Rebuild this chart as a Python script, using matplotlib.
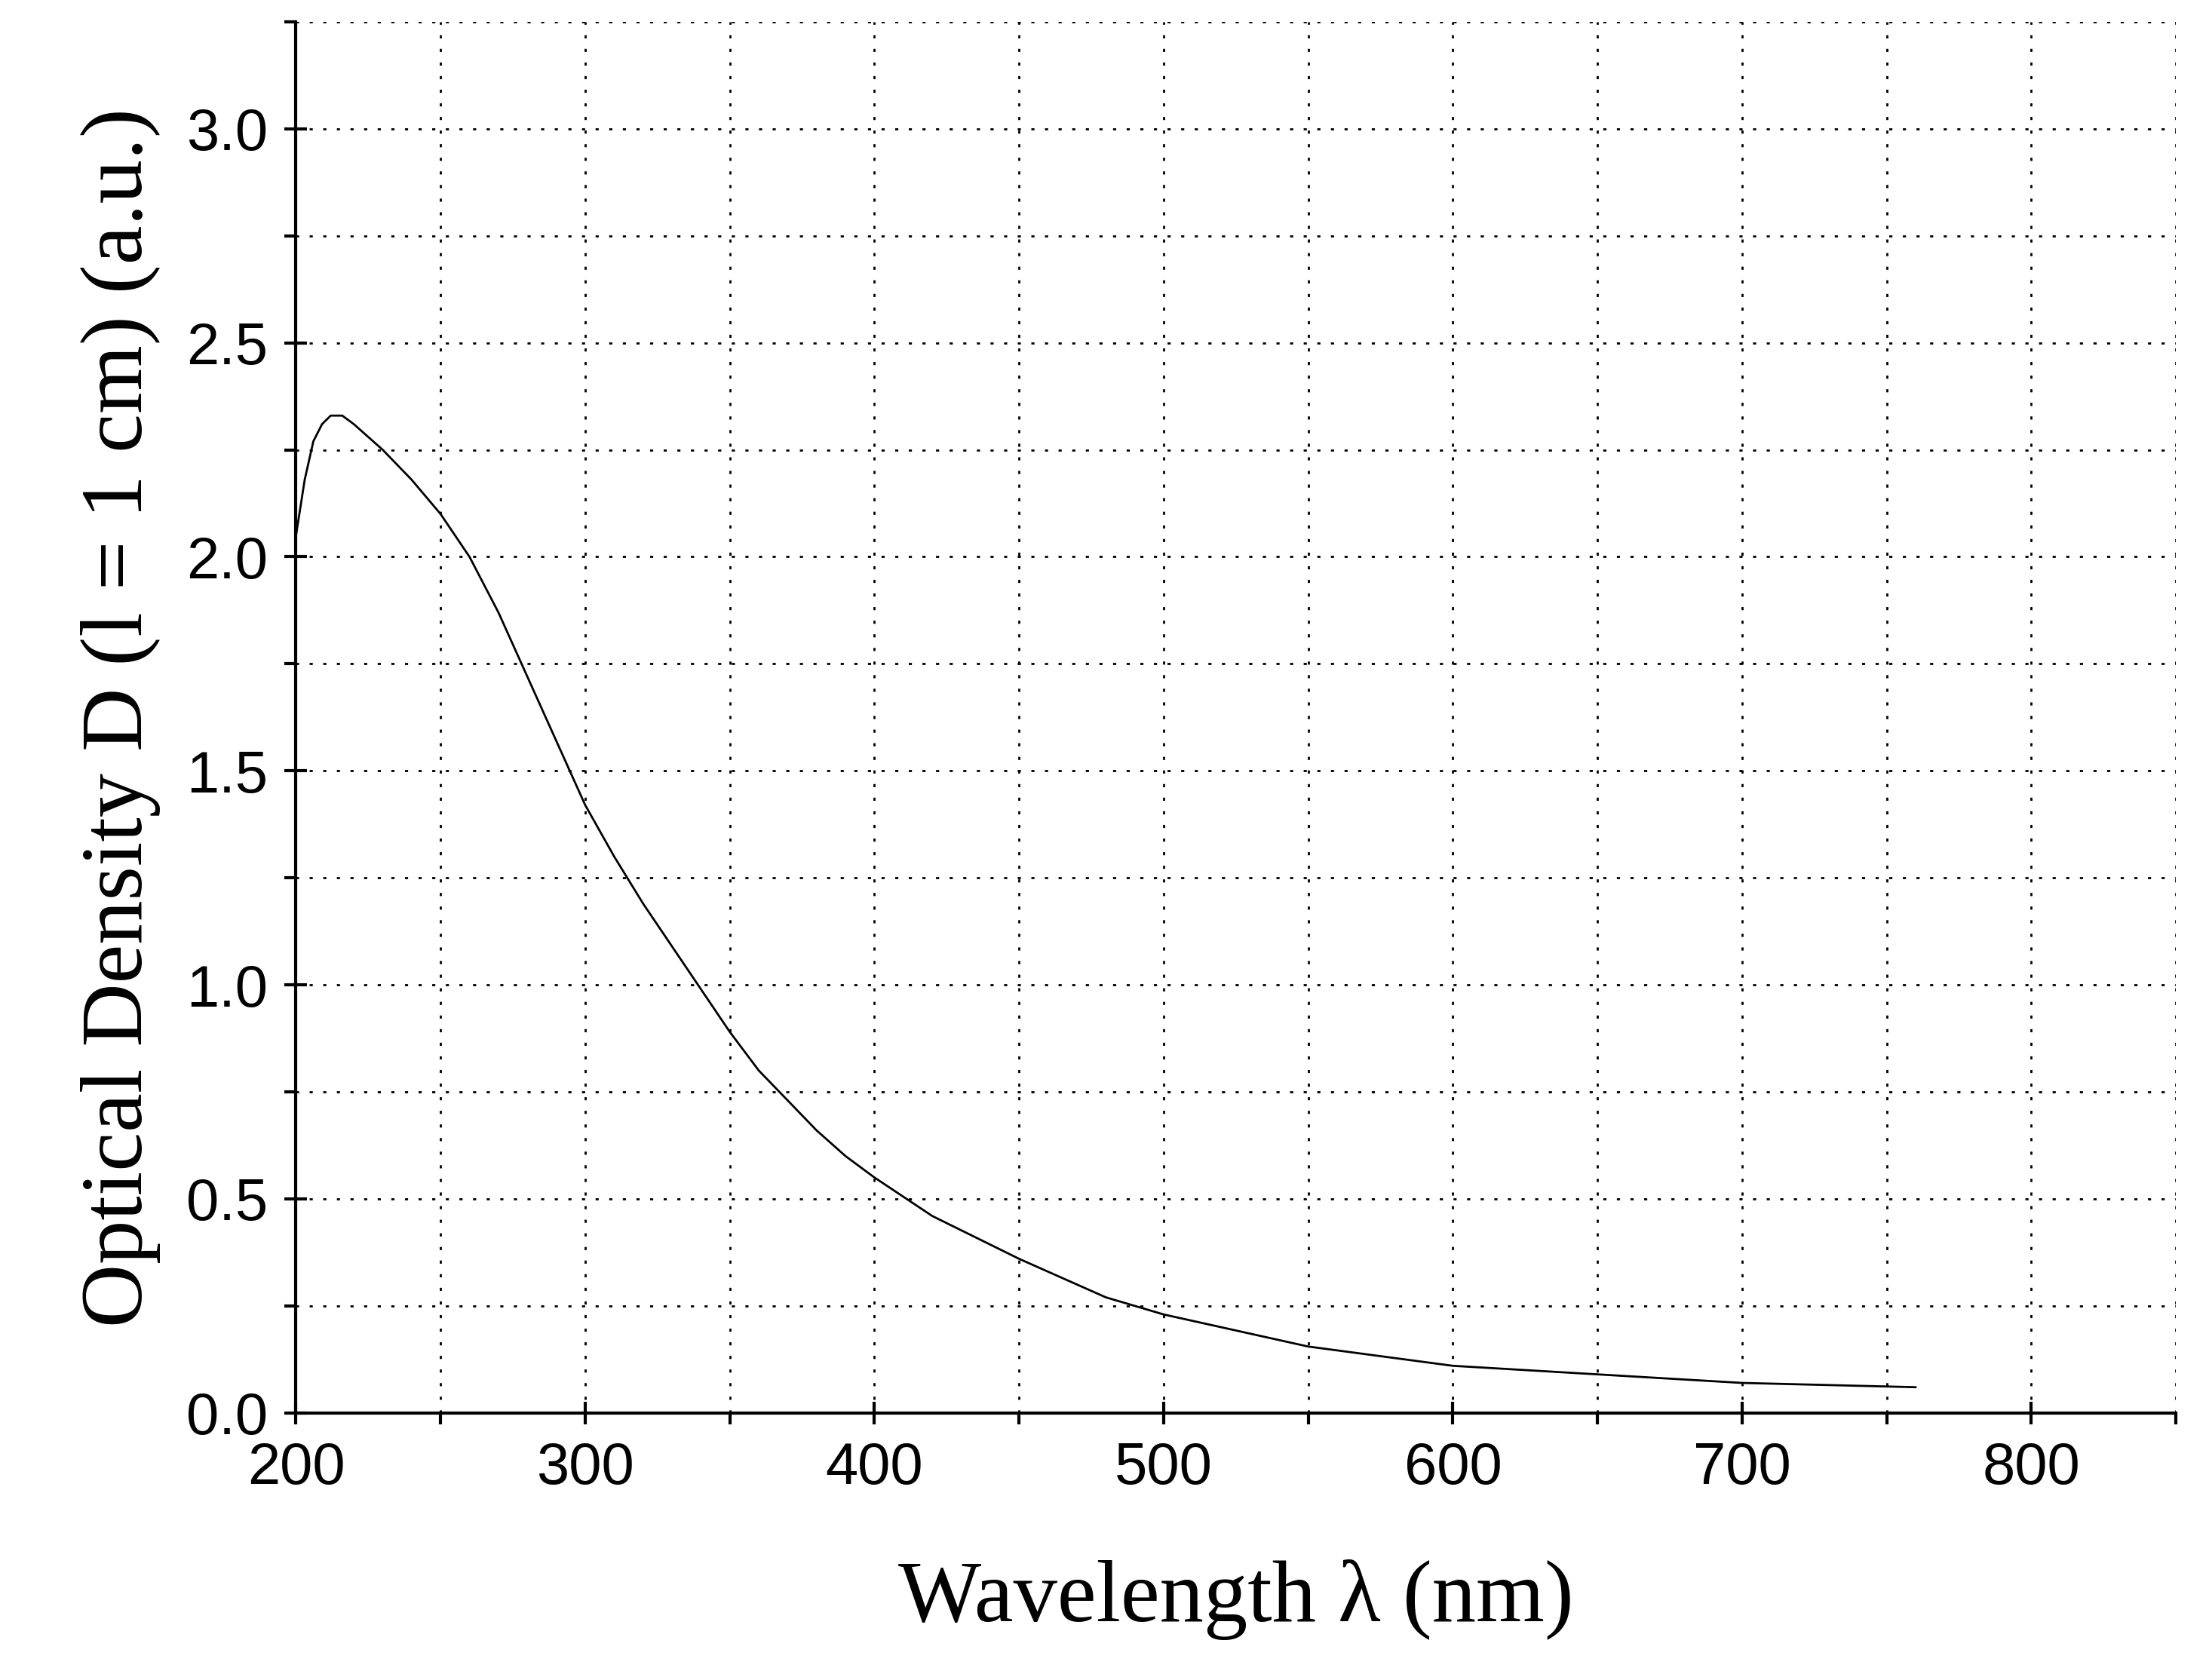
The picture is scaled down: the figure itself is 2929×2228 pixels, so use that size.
import matplotlib
matplotlib.use("Agg")
import matplotlib.pyplot as plt
from matplotlib.ticker import MultipleLocator

wl = [200, 203, 206, 209, 212, 216, 220, 230, 240, 250, 260, 270, 280, 290, 300, 310, 320, 330, 340, 350,
      360, 370, 380, 390, 400, 420, 450, 480, 500, 550, 600, 650, 700, 760]
od = [2.05, 2.18, 2.27, 2.31, 2.33, 2.33, 2.31, 2.25, 2.18, 2.10, 2.00, 1.87, 1.72, 1.57, 1.42, 1.30, 1.19,
      1.09, 0.99, 0.89, 0.80, 0.73, 0.66, 0.60, 0.55, 0.46, 0.36, 0.27, 0.23, 0.155, 0.11, 0.09, 0.07, 0.06]

fig = plt.figure(figsize=(29.29, 22.28), dpi=100)
ax = fig.add_axes([0.134, 0.159, 0.851, 0.828])
ax.plot(wl, od, color="black", lw=2)
ax.set_xlim(200, 850)
ax.set_ylim(0, 3.25)
ax.xaxis.set_major_locator(MultipleLocator(100))
ax.xaxis.set_minor_locator(MultipleLocator(50))
ax.yaxis.set_minor_locator(MultipleLocator(0.25))
ax.set_yticks([0, 0.5, 1.0, 1.5, 2.0, 2.5, 3.0])
ax.set_yticklabels(["0.0", "0.5", "1.0", "1.5", "2.0", "2.5", "3.0"])
ax.grid(which="both", color="black", linestyle=(0, (1.5, 5)), lw=2)
for s in ["top", "right"]:
    ax.spines[s].set_visible(False)
for s in ["left", "bottom"]:
    ax.spines[s].set_linewidth(3)
ax.tick_params(which="major", direction="inout", length=22, width=3, labelsize=56, pad=16)
ax.tick_params(which="minor", direction="out", length=11, width=3)
for t in ax.get_xticklabels() + ax.get_yticklabels():
    t.set_family("Liberation Sans")
ax.set_xlabel("Wavelength λ (nm)", family="Liberation Serif", fontsize=84, labelpad=60)
ax.set_ylabel("Optical Density D (l = 1 cm) (a.u.)", family="Liberation Serif", fontsize=84, labelpad=24)
fig.savefig("out.png", dpi=100)
